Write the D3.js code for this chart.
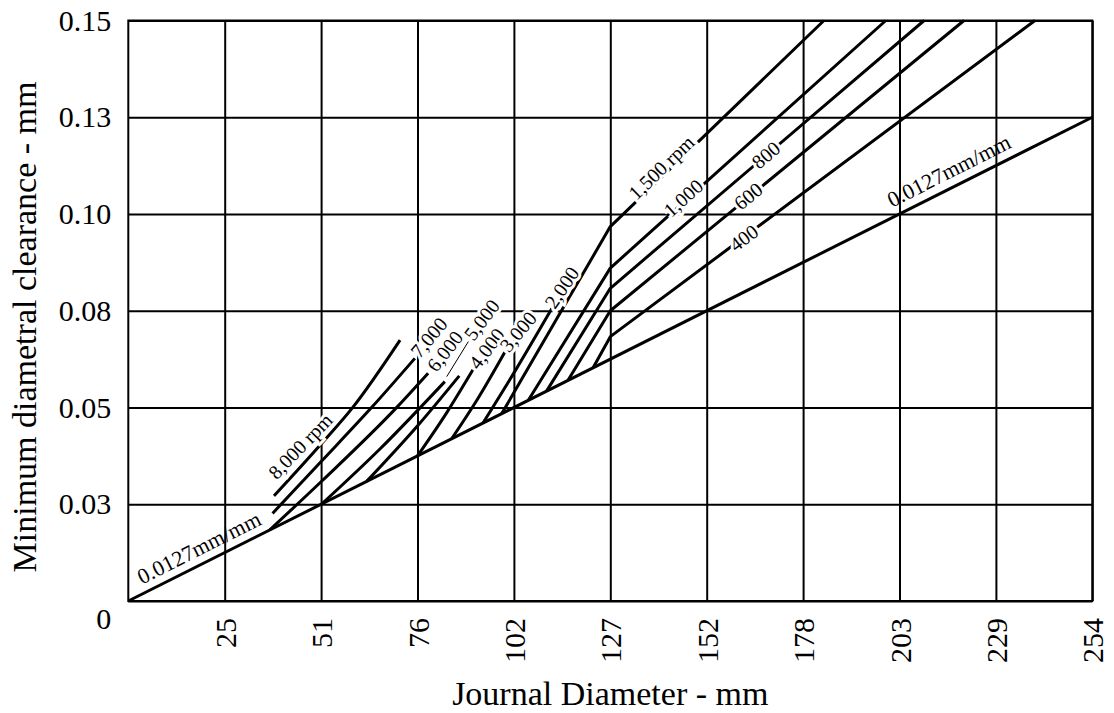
<!DOCTYPE html>
<html>
<head>
	<meta charset="utf-8" />
	<title>Minimum diametral clearance vs journal diameter</title>
	<script src="https://cdnjs.cloudflare.com/ajax/libs/d3/7.8.5/d3.min.js"></script>
	<style>
		html, body { margin: 0; background: #fff; }
		svg text { font-family: "Liberation Serif", "Times New Roman", serif; fill: #000; }
	</style>
</head>
<body>
<svg id="chart" width="1114" height="713"></svg>
<script>
// axes (mm) - grid is on inch steps, labels rounded to mm
var xTicks = [25.4, 50.8, 76.2, 101.6, 127, 152.4, 177.8, 203.2, 228.6, 254];
var xTickLabels = ["25", "51", "76", "102", "127", "152", "178", "203", "229", "254"];
var yTicks = [0, 0.0254, 0.0508, 0.0762, 0.1016, 0.127, 0.1524];
var yTickLabels = ["0", "0.03", "0.05", "0.08", "0.10", "0.13", "0.15"];

// curves: [journal diameter mm, clearance mm]
var base    = [[0, 0], [254, 0.127]];
var rpm8000 = [[38.4, 0.0276], [50.8, 0.0412], [59.2, 0.0509], [71.6, 0.0685]];
var rpm7000 = [[38.0, 0.0230], [51.0, 0.0368], [64.2, 0.0509], [75.5, 0.0637]];
var rpm6000 = [[37.3, 0.0187], [51.0, 0.0315], [70.8, 0.0509], [79.0, 0.0598]];
var rpm5000 = [[51.0, 0.0255], [66.3, 0.0399], [83.4, 0.0576]];
var rpmMid  = [[62.8, 0.0314], [76.4, 0.0462], [87.2, 0.0591]];
var rpm4000 = [[76.2, 0.0381], [84.0, 0.0496], [90.8, 0.0607]];
var rpm3000 = [[85.2, 0.0426], [92.2, 0.0533], [99.3, 0.0655]];
var rpm2000 = [[93.5, 0.0468], [102.4, 0.0612], [111.6, 0.0768]];
var rpm1500 = [[98.4, 0.0492], [127, 0.0983], [183.3, 0.1524]];
var rpm1000 = [[105.4, 0.0527], [127, 0.0874], [199.6, 0.1524]];
var rpm800  = [[110.2, 0.0551], [127, 0.0821], [209.7, 0.1524]];
var rpm600  = [[115.9, 0.0580], [127, 0.0762], [220.2, 0.1524]];
var rpm400  = [[122.5, 0.0613], [127, 0.0694], [238.9, 0.1524]];

var curvedLines = [rpm8000, rpm7000, rpm6000, rpm5000, rpmMid, rpm4000, rpm3000, rpm2000];
var bentLines = [base, rpm1500, rpm1000, rpm800, rpm600, rpm400];

// labels: text, anchor point (mm), angle
var labels = [
	{t: "8,000 rpm", x: 45.3, y: 0.0407, a: -46},
	{t: "7,000", x: 79.2, y: 0.0692, a: -50},
	{t: "6,000", x: 83.4, y: 0.0656, a: -52},
	{t: "5,000", x: 93.1, y: 0.0738, a: -53},
	{t: "4,000", x: 94.4, y: 0.0663, a: -53},
	{t: "3,000", x: 102.7, y: 0.0707, a: -50},
	{t: "2,000", x: 114.2, y: 0.0823, a: -56},
	{t: "1,500 rpm", x: 140.4, y: 0.1138, a: -44},
	{t: "1,000", x: 146.2, y: 0.1058, a: -42},
	{t: "800", x: 168.0, y: 0.1171, a: -40.6},
	{t: "600", x: 163.3, y: 0.1063, a: -39.4},
	{t: "400", x: 162.2, y: 0.0953, a: -36.8}
];
var slopeLabels = [
	{t: "0.0127mm/mm", x: 18.6, y: 0.01405, a: -26.7},
	{t: "0.0127mm/mm", x: 216.2, y: 0.1130, a: -26.7}
];
var leader5000 = [[83.9, 0.0589], [89.6, 0.0681]];

var margin = {top: 20.5, right: 21.7, bottom: 112, left: 128.3};
var W = 1114, H = 713;
var w = W - margin.left - margin.right, h = H - margin.top - margin.bottom;

var svg = d3.select("#chart");
var g = svg.append("g").attr("transform", "translate(" + margin.left + "," + margin.top + ")");

var x = d3.scaleLinear().domain([0, 254]).range([0, w]);
var y = d3.scaleLinear().domain([0, 0.1524]).range([h, 0]);

// y grid + labels
var yAxis = g.append("g")
	.call(d3.axisLeft(y).tickValues(yTicks).tickFormat(function(d, i) { return yTickLabels[i]; })
		.tickSize(-w).tickPadding(17));
yAxis.select(".domain").remove();
yAxis.selectAll("line").attr("stroke", "#000").attr("stroke-width", 2);
yAxis.selectAll("text").style("font-size", "30px").attr("dy", function(d) { return d === 0 ? "0.9em" : "0.32em"; });

// x grid + labels
var xAxis = g.append("g").attr("transform", "translate(0," + h + ")")
	.call(d3.axisBottom(x).tickValues(xTicks).tickFormat(function(d, i) { return xTickLabels[i]; })
		.tickSize(-h).tickPadding(17));
xAxis.select(".domain").remove();
xAxis.selectAll("line").attr("stroke", "#000").attr("stroke-width", 2);
xAxis.selectAll("text").style("font-size", "30px")
	.attr("transform", "rotate(-90)")
	.attr("x", -17).attr("y", 0).attr("dy", "0.35em")
	.attr("text-anchor", "end");

// frame
g.append("rect").attr("x", 0).attr("y", 0).attr("width", w).attr("height", h)
	.attr("fill", "none").attr("stroke", "#000").attr("stroke-width", 2);

var curved = d3.line().x(function(d) { return x(d[0]); }).y(function(d) { return y(d[1]); }).curve(d3.curveMonotoneX);
var straight = d3.line().x(function(d) { return x(d[0]); }).y(function(d) { return y(d[1]); });

g.selectAll("path.rpm").data(curvedLines).enter().append("path")
	.attr("class", "rpm").attr("d", curved)
	.attr("fill", "none").attr("stroke", "#000").attr("stroke-width", 3);
g.selectAll("path.bent").data(bentLines).enter().append("path")
	.attr("class", "bent").attr("d", straight)
	.attr("fill", "none").attr("stroke", "#000").attr("stroke-width", 3).attr("stroke-linejoin", "round");

g.append("path").attr("d", straight(leader5000)).attr("fill", "none").attr("stroke", "#000").attr("stroke-width", 1);

g.selectAll("text.rpm").data(labels).enter().append("text")
	.attr("class", "rpm")
	.attr("transform", function(d) { return "translate(" + x(d.x) + "," + y(d.y) + ") rotate(" + d.a + ")"; })
	.attr("text-anchor", "middle").attr("dy", "0.35em")
	.style("font-size", "20px")
	.style("paint-order", "stroke").style("stroke", "#fff").style("stroke-width", "6px")
	.text(function(d) { return d.t; });

g.selectAll("text.slope").data(slopeLabels).enter().append("text")
	.attr("class", "slope")
	.attr("transform", function(d) { return "translate(" + x(d.x) + "," + y(d.y) + ") rotate(" + d.a + ")"; })
	.attr("text-anchor", "middle").attr("dy", "0.35em")
	.style("font-size", "22px")
	.text(function(d) { return d.t; });

// axis titles
svg.append("text").attr("x", margin.left + w / 2).attr("y", 705)
	.attr("text-anchor", "middle").style("font-size", "34px")
	.text("Journal Diameter - mm");
svg.append("text").attr("transform", "translate(36,327) rotate(-90)")
	.attr("text-anchor", "middle").style("font-size", "34px")
	.text("Minimum diametral clearance - mm");
</script>
</body>
</html>
